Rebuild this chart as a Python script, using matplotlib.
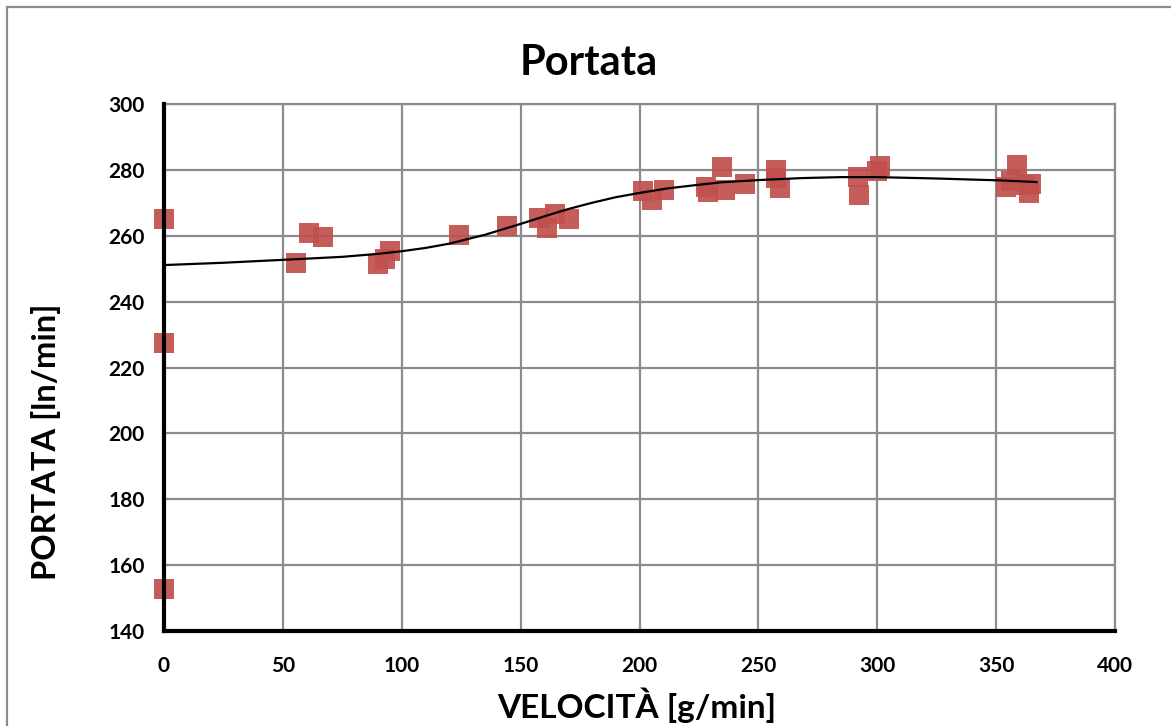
import matplotlib
matplotlib.use("Agg")
import matplotlib.pyplot as plt
from matplotlib.patches import Rectangle

plt.rcParams['font.family'] = ['Lato', 'DejaVu Sans']

# Measured points: speed [g/min] vs flow [ln/min]
velocita = [0, 0, 0, 55.5, 61, 66.9, 90, 93, 95, 124, 144.3, 157.7, 161, 164.5,
            170.3, 201.5, 205.3, 210.3, 228, 228.8, 234.7, 236, 244.4, 257.4,
            257.4, 259, 291.9, 292.3, 300, 301, 354.2, 356.3, 358.8, 362,
            363.8, 364.7]
portata = [265, 227.4, 152.8, 251.6, 260.8, 259.6, 251.5, 253, 255.4, 260.1,
           263, 265.4, 262.4, 266.5, 265.2, 273.7, 271, 273.8, 274.8, 273.4,
           280.9, 274, 275.6, 280, 277.5, 274.6, 277.8, 272.5, 279.8, 281.3,
           274.8, 276.7, 281.6, 275.5, 273.1, 275.6]

# Trend curve
trend_x = [0, 25, 56, 75, 90, 100, 110, 120, 135, 150, 160, 170, 180, 190,
           200, 212, 224, 234, 250, 268, 285, 300, 324, 352, 367]
trend_y = [251.1, 251.8, 252.9, 253.6, 254.5, 255.3, 256.3, 257.6, 260.3,
           263.6, 265.9, 268.1, 270.0, 271.7, 273.0, 274.4, 275.4, 276.2,
           276.9, 277.5, 277.8, 277.8, 277.4, 276.8, 276.3]

x_ticks = [0, 50, 100, 150, 200, 250, 300, 350, 400]
y_ticks = [140, 160, 180, 200, 220, 240, 260, 280, 300]

fig = plt.figure(figsize=(11.71, 7.26), dpi=100)
ax = fig.add_axes([164 / 1171, 1 - 631 / 726, (1115 - 164) / 1171, (631 - 104) / 726])

ax.set_xlim(0, 400)
ax.set_ylim(140, 300)
ax.set_xticks(x_ticks)
ax.set_yticks(y_ticks)
ax.grid(True, color='#8c8c8c', linewidth=1.6)
ax.set_axisbelow(True)

ax.plot(velocita, portata, linestyle='none', marker='s', markersize=15,
        color='#c0504d', alpha=0.92, markeredgewidth=0, clip_on=False, zorder=3)
ax.plot(trend_x, trend_y, color='black', linewidth=1.6, zorder=4)

for side in ('top', 'right'):
    ax.spines[side].set_color('#8c8c8c')
    ax.spines[side].set_linewidth(1.6)
for side in ('left', 'bottom'):
    ax.spines[side].set_color('black')
    ax.spines[side].set_linewidth(3)
    ax.spines[side].set_zorder(5)

ax.tick_params(length=0, pad=14, labelsize=15)
for lbl in ax.get_xticklabels() + ax.get_yticklabels():
    lbl.set_fontweight('bold')
ax.tick_params(axis='x', pad=18)

ax.set_xlabel('VELOCITÀ [g/min]', fontsize=24, fontweight='bold', va='center')
ax.xaxis.set_label_coords(0.497, -0.140)
ax.set_ylabel('PORTATA [ln/min]', fontsize=23.5, fontweight='bold', va='center')
ax.yaxis.set_label_coords(-0.124, 0.36)
fig.text(589 / 1171, 1 - 63 / 726, 'Portata', fontsize=30, fontweight='bold',
         ha='center', va='center')

fig.patches.append(Rectangle((7 / 1171, -0.05), 1.2, 1 - 7 / 726 + 0.05,
                             transform=fig.transFigure, fill=False,
                             edgecolor='#8c8c8c', linewidth=1.6))

fig.savefig('out.png', dpi=100)
